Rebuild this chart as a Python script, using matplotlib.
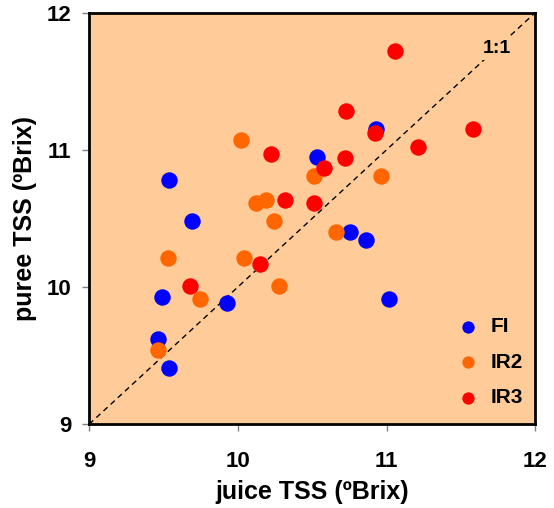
import matplotlib
matplotlib.use('Agg')
import matplotlib.pyplot as plt

plt.rcParams['font.family'] = ['Liberation Sans', 'DejaVu Sans']
plt.rcParams['font.weight'] = 'bold'

# juice vs puree total soluble solids, by treatment
fi_juice = [10.53, 9.54, 9.69, 10.93, 9.49, 9.93, 9.46, 9.54, 10.755, 10.86, 11.02]
fi_puree = [10.95, 10.78, 10.48, 11.15, 9.93, 9.88, 9.62, 9.41, 10.40, 10.34, 9.91]

ir2_juice = [10.02, 10.515, 10.12, 10.19, 10.24, 10.96, 9.53, 10.04, 10.28, 9.745, 9.46, 10.66]
ir2_puree = [11.07, 10.81, 10.61, 10.635, 10.48, 10.81, 10.21, 10.21, 10.01, 9.91, 9.54, 10.40]

ir3_juice = [10.22, 10.58, 10.72, 10.73, 10.32, 10.515, 11.06, 10.92, 11.58, 11.21, 10.15, 9.68]
ir3_puree = [10.97, 10.87, 10.94, 11.28, 10.635, 10.61, 11.72, 11.12, 11.15, 11.02, 10.17, 10.01]

ticks = [9, 10, 11, 12]
bg = '#FFCC99'

fig = plt.figure(figsize=(5.54, 5.08), dpi=100)
ax = fig.add_axes([0.161, 0.165, 0.805, 0.81])
ax.set_facecolor(bg)

# 1:1 reference line
ax.plot([9, 12], [9, 12], color='black', linestyle=(0, (4, 3)), linewidth=1, zorder=1)
ax.text(11.74, 11.74, '1:1', fontsize=14, fontweight='bold', ha='center', va='center',
        bbox=dict(facecolor=bg, edgecolor='none', pad=2), zorder=2)

s = 140
ax.scatter(fi_juice, fi_puree, s=s, color='#0000FF', label='FI', zorder=3, linewidths=0)
ax.scatter(ir2_juice, ir2_puree, s=s, color='#FF6600', label='IR2', zorder=3, linewidths=0)
ax.scatter(ir3_juice, ir3_puree, s=s, color='#FF0000', label='IR3', zorder=3, linewidths=0)

ax.set_xlim(9, 12)
ax.set_ylim(9, 12)
ax.set_xticks(ticks)
ax.set_yticks(ticks)
ax.tick_params(direction='out', length=5, width=1, color='#808080', labelsize=16)
ax.tick_params(axis='x', pad=14)
ax.tick_params(axis='y', pad=8)
for lab in ax.get_xticklabels() + ax.get_yticklabels():
    lab.set_fontweight('bold')
for sp in ax.spines.values():
    sp.set_linewidth(2)
    sp.set_color('black')

ax.set_xlabel('juice TSS (ºBrix)', fontsize=18, fontweight='bold', va='center')
ax.set_ylabel('puree TSS (ºBrix)', fontsize=18, fontweight='bold', va='center')
ax.xaxis.set_label_coords(0.5, -0.164)
ax.yaxis.set_label_coords(-0.144, 0.5)

ax.legend(loc='lower right', bbox_to_anchor=(1.015, -0.005), frameon=False,
          scatterpoints=1, markerscale=0.75, handletextpad=0.1, labelspacing=0.8,
          prop={'weight': 'bold', 'size': 15})

fig.savefig('out.png', dpi=100)
